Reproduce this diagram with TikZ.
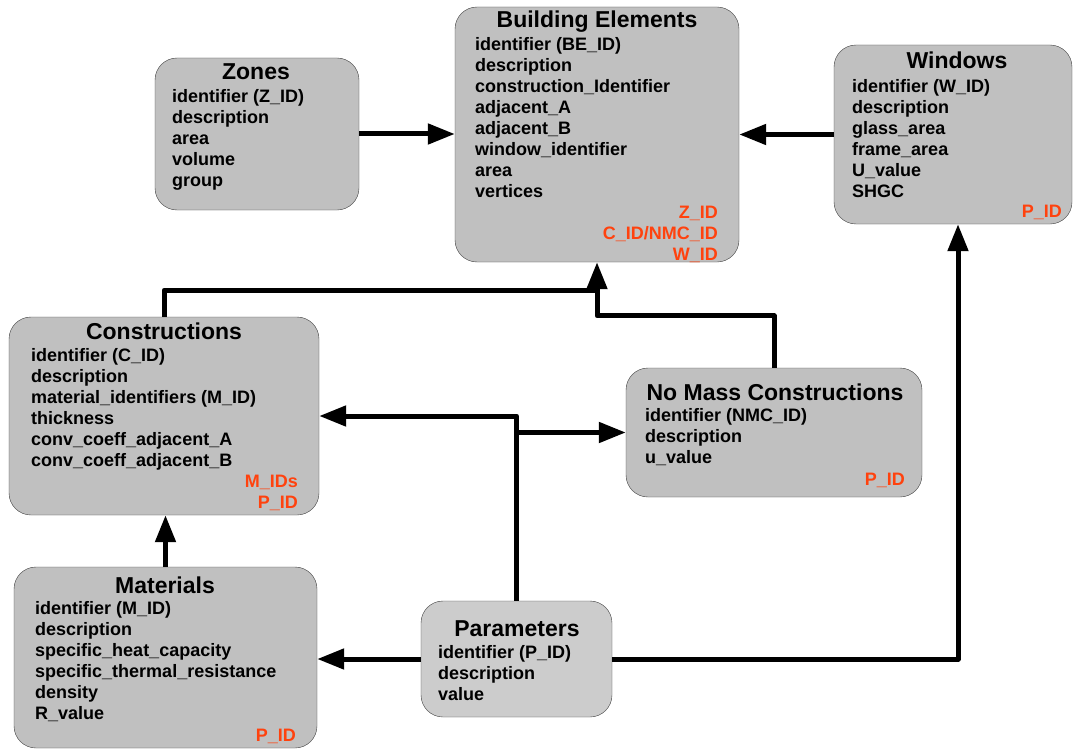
\documentclass[tikz,border=0pt]{standalone}
\usepackage{fontspec}
\setmainfont{Liberation Sans}
\usetikzlibrary{arrows.meta}
\definecolor{boxgray}{HTML}{C0C0C0}
\definecolor{pargray}{HTML}{CCCCCC}
\definecolor{idred}{HTML}{FF420E}
\newcommand\titlefont{\bfseries\fontsize{23}{26}\selectfont}
\newcommand\fieldfont{\bfseries\fontsize{18}{21}\selectfont}
\tikzset{table/.style 2 args={draw=black!75,fill=boxgray,rounded corners=22pt,
    minimum width=#1,minimum height=#2,inner sep=0pt}}

\begin{document}
\begin{tikzpicture}[x=1pt,y=-1pt,
        title/.style={anchor=base,inner sep=0pt,font=\titlefont},
        fields/.style={anchor=north west,inner sep=0pt,align=left,font=\fieldfont},
        keys/.style={anchor=north east,inner sep=0pt,align=right,font=\fieldfont,text=idred},
        conn/.style={line width=5pt,line join=round,-{Triangle[length=27pt,width=20pt]}}]
    \useasboundingbox (0,0) rectangle (1073,749);

    \node[table={284pt}{255pt}] (be) at (597,134.5) {};
    \node[title] (betitle) at (597,28) {Building Elements};
    \node[fields] (befields) at (475,37.5) {identifier (BE\_ID)\\description\\construction\_Identifier\\adjacent\_A\\adjacent\_B\\window\_identifier\\area\\vertices};
    \node[keys] (bekeys) at (718,205.5) {Z\_ID\\C\_ID/NMC\_ID\\W\_ID};

    \node[table={204pt}{152pt}] (zones) at (257,134) {};
    \node[title] (zonestitle) at (256,80) {Zones};
    \node[fields] (zonesfields) at (172,89.5) {identifier (Z\_ID)\\description\\area\\volume\\group};

    \node[table={238pt}{179pt}] (win) at (953,134.5) {};
    \node[title] (wintitle) at (957,69) {Windows};
    \node[fields] (winfields) at (852,79.5) {identifier (W\_ID)\\description\\glass\_area\\frame\_area\\U\_value\\SHGC};
    \node[keys] (winkeys) at (1062,204.5) {P\_ID};

    \node[table={310pt}{198pt}] (cons) at (164,416) {};
    \node[title] (constitle) at (164,339) {Constructions};
    \node[fields] (consfields) at (31,348.5) {identifier (C\_ID)\\description\\material\_identifiers (M\_ID)\\thickness\\conv\_coeff\_adjacent\_A\\conv\_coeff\_adjacent\_B};
    \node[keys] (conskeys) at (298,474.5) {M\_IDs\\P\_ID};

    \node[table={296pt}{129pt}] (nmc) at (774,432.5) {};
    \node[title] (nmctitle) at (775,400) {No Mass Constructions};
    \node[fields] (nmcfields) at (645,408.5) {identifier (NMC\_ID)\\description\\u\_value};
    \node[keys] (nmckeys) at (905,472.5) {P\_ID};

    \node[table={303pt}{181pt}] (mat) at (165.5,657.5) {};
    \node[title] (mattitle) at (165,593) {Materials};
    \node[fields] (matfields) at (35,601.5) {identifier (M\_ID)\\description\\specific\_heat\_capacity\\specific\_thermal\_resistance\\density\\R\_value};
    \node[keys] (matkeys) at (296,728.5) {P\_ID};

    \node[table={191pt}{116pt},fill=pargray] (par) at (516.5,659) {};
    \node[title] (partitle) at (517,636) {Parameters};
    \node[fields] (parfields) at (438,645.5) {identifier (P\_ID)\\description\\value};

    % links
    \coordinate (jn) at ([yshift=-28pt]be.south);
    \draw[conn] (zones.east) -- (zones.east -| be.west);
    \draw[conn] (win.west) -- (win.west -| be.east);
    \draw[line width=5pt,line join=round] (cons.north) |- (jn);
    \draw[conn] (nmc.north) -- ++(0,-52) -| (be.south);
    \draw[conn] (mat.north) -- (mat.north |- cons.south);
    \draw[conn] (par.north) |- (cons.east);
    \draw[conn] (par.north) |- (nmc.west);
    \draw[conn] (par.west) -- (par.west -| mat.east);
    \draw[conn] (par.east) -| ([xshift=5pt]win.south);
\end{tikzpicture}
\end{document}
